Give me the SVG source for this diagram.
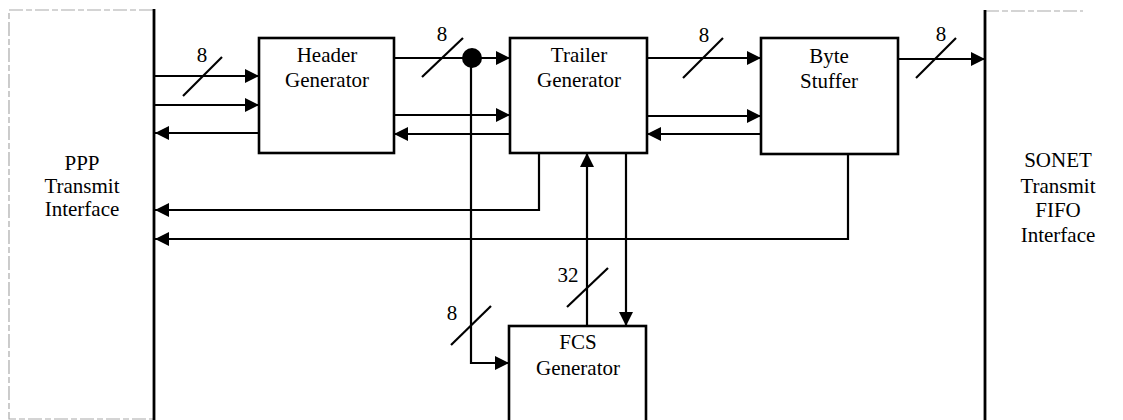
<svg xmlns="http://www.w3.org/2000/svg" width="1123" height="420" viewBox="0 0 1123 420">
<style>
.box{fill:#fff;stroke:#000;stroke-width:2.6}
.edge{fill:none;stroke:#aaa;stroke-width:1.2;stroke-dasharray:14 3 6 3}
.side{stroke:#000;stroke-width:2.8}
.t{font-family:"Liberation Serif",serif;font-size:21px;fill:#000;text-anchor:middle}
.w{fill:none;stroke:#000;stroke-width:2.2}
.a{marker-end:url(#ah)}
.sl{stroke:#000;stroke-width:2.2}
</style>
<defs>
<marker id="ah" markerUnits="userSpaceOnUse" markerWidth="15" markerHeight="15" viewBox="0 0 15 15" refX="14" refY="7.5" orient="auto">
<path d="M0,0.5 L14,7.5 L0,14.5 Z" fill="#000"/>
</marker>
</defs>
<rect width="1123" height="420" fill="#fff"/>
<g id="ppp">
<path class="edge" d="M153,10 H9 V419 H153"/>
<line class="side" x1="154" y1="9" x2="154" y2="420"/>
<text class="t" x="82" y="170">PPP</text>
<text class="t" x="82" y="193">Transmit</text>
<text class="t" x="82" y="216">Interface</text>
</g>
<g id="sonet">
<path class="edge" d="M985,11 H1083"/>
<line class="side" x1="985" y1="10" x2="985" y2="420"/>
<text class="t" x="1058" y="167">SONET</text>
<text class="t" x="1058" y="193">Transmit</text>
<text class="t" x="1058" y="217">FIFO</text>
<text class="t" x="1058" y="242">Interface</text>
</g>
<g id="header">
<rect class="box" x="259" y="38" width="135" height="115"/>
<text class="t" x="327" y="62">Header</text>
<text class="t" x="327" y="87">Generator</text>
</g>
<g id="trailer">
<rect class="box" x="510" y="38" width="137" height="115"/>
<text class="t" x="579" y="62">Trailer</text>
<text class="t" x="579" y="87">Generator</text>
</g>
<g id="byte">
<rect class="box" x="761" y="38" width="137" height="116"/>
<text class="t" x="829" y="63">Byte</text>
<text class="t" x="829" y="88">Stuffer</text>
</g>
<g id="fcs">
<rect class="box" x="509" y="326" width="137" height="110"/>
<text class="t" x="578" y="349">FCS</text>
<text class="t" x="578" y="375">Generator</text>
</g>
<g id="connectors">
<line class="w a" x1="155" y1="76" x2="259" y2="76"/>
<line class="w a" x1="155" y1="105" x2="259" y2="105"/>
<line class="w a" x1="259" y1="133" x2="155" y2="133"/>
<line class="w a" x1="394" y1="58" x2="510" y2="58"/>
<circle cx="472" cy="58" r="10" fill="#000"/>
<line class="w a" x1="394" y1="115" x2="510" y2="115"/>
<line class="w a" x1="510" y1="134" x2="394" y2="134"/>
<line class="w a" x1="647" y1="58" x2="761" y2="58"/>
<line class="w a" x1="647" y1="116" x2="761" y2="116"/>
<line class="w a" x1="761" y1="134" x2="647" y2="134"/>
<line class="w a" x1="898" y1="59" x2="985" y2="59"/>
<polyline class="w a" points="539,153 539,210 155,210"/>
<polyline class="w a" points="848,154 848,239 155,239"/>
<polyline class="w a" points="471,58 471,363 509,363"/>
<line class="w a" x1="587" y1="326" x2="587" y2="153"/>
<line class="w a" x1="626" y1="153" x2="626" y2="326"/>
<line class="sl" x1="183" y1="96" x2="222" y2="57"/>
<line class="sl" x1="422" y1="77" x2="463" y2="38"/>
<line class="sl" x1="683" y1="78" x2="723" y2="38"/>
<line class="sl" x1="916" y1="78" x2="956" y2="38"/>
<line class="sl" x1="567" y1="307" x2="608" y2="268"/>
<line class="sl" x1="451" y1="345" x2="491" y2="306"/>
<text class="t" x="202" y="62">8</text>
<text class="t" x="442" y="41">8</text>
<text class="t" x="704" y="42">8</text>
<text class="t" x="941" y="41">8</text>
<text class="t" x="568" y="282">32</text>
<text class="t" x="452" y="320">8</text>
</g>
</svg>
